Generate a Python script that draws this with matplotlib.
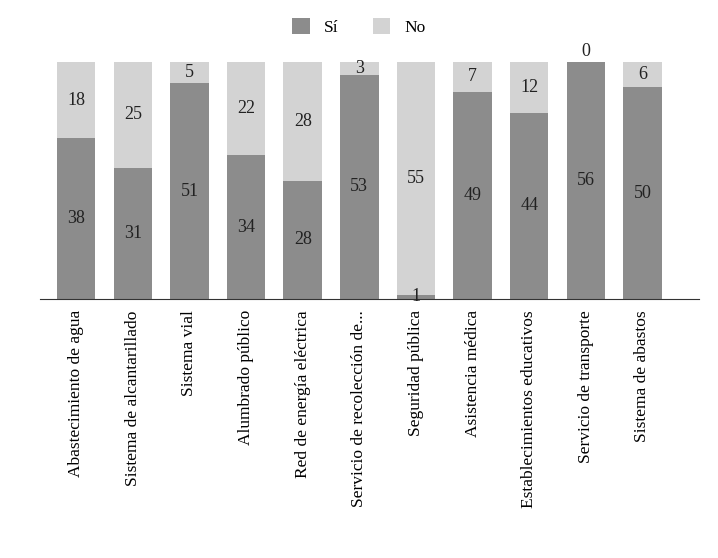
import matplotlib.pyplot as plt

# --- Data
categorias = ["Abastecimiento de agua", "Sistema de alcantarillado", "Sistema vial",
              "Alumbrado público", "Red de energía eléctrica", "Servicio de recolección de...",
              "Seguridad pública", "Asistencia médica", "Establecimientos educativos",
              "Servicio de transporte", "Sistema de abastos"]
si = [38, 31, 51, 34, 28, 53, 1, 49, 44, 56, 50]
no = [18, 25, 5, 22, 28, 3, 55, 7, 12, 0, 6]

plt.rcParams["font.family"] = "Liberation Serif"
fig = plt.figure(figsize=(7.18, 5.58), dpi=100)
ax = fig.add_axes([0.0557, 0.464, 0.918, 0.425])

x = range(len(categorias))
ax.bar(x, si, width=0.68, color="#8c8c8c", label="Sí")
ax.bar(x, no, width=0.68, bottom=si, color="#d3d3d3", label="No")

for i in x:
    ax.text(i, si[i] / 2, str(si[i]), ha="center", va="center", fontsize=13, color="#222222")
    if no[i] == 0:
        ax.text(i, si[i] + 0.5, "0", ha="center", va="bottom", fontsize=13, color="#222222")
    else:
        ax.text(i, si[i] + no[i] / 2, str(no[i]), ha="center", va="center", fontsize=13, color="#222222")

ax.set_xlim(-0.64, 11.0)
ax.set_ylim(0, 56)
ax.set_xticks(list(x))
ax.set_xticklabels(categorias, rotation=90, fontsize=12.5)
ax.tick_params(axis="x", length=0, pad=8)
ax.set_yticks([])
for s in ["top", "right", "left"]:
    ax.spines[s].set_visible(False)
ax.spines["bottom"].set_color("#333333")

fig.legend(loc="upper center", bbox_to_anchor=(0.5, 0.995), ncol=2, frameon=False,
           fontsize=12.5, handlelength=1.0, handleheight=1.0, columnspacing=2.0)

fig.savefig("out.png", dpi=100)
